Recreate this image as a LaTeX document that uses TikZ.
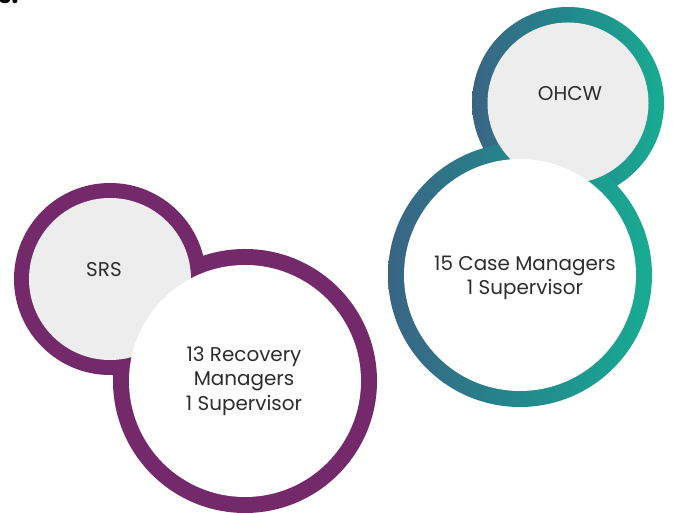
\documentclass[tikz,border=0pt]{standalone}
\usepackage{fontspec}
\setmainfont{Poppins}
\definecolor{plum}{RGB}{116,42,106}
\definecolor{tealL}{RGB}{58,100,132}
\definecolor{tealM}{RGB}{34,136,140}
\definecolor{tealR}{RGB}{24,172,146}
\definecolor{disc}{RGB}{237,237,237}
\definecolor{ink}{RGB}{45,45,45}
\tikzset{
  lbl/.style={text=ink, font=\fontsize{20}{24.5}\selectfont, align=center, inner sep=0pt},
  ringP/.style={circle, fill=plum, inner sep=0pt},
  ringT/.style={circle, left color=tealL, right color=tealR, middle color=tealM, inner sep=0pt},
  grayd/.style={circle, fill=disc, inner sep=0pt},
  whited/.style={circle, fill=white, inner sep=0pt}
}
\begin{document}
\begin{tikzpicture}[x=1bp,y=1bp]
\useasboundingbox (0,0) rectangle (673,513);
% clipped heading fragment
\node[anchor=base west, inner sep=0pt, font=\bfseries\fontsize{24}{28}\selectfont] (head) at (-2,509) {s:};
% purple pair
\node[ringP, minimum size=192bp] (srsR) at (110,234) {};
\node[ringP, minimum size=264bp] (recR) at (245,132) {};
\node[grayd, minimum size=162bp] (srsD) at (110,234) {};
\node[whited, minimum size=232bp] (recD) at (245,132) {};
% teal pair
\node[ringT, minimum size=192bp] (ohR) at (568,410) {};
\node[ringT, minimum size=264bp] (caseR) at (520,238) {};
\node[grayd, minimum size=161bp] (ohD) at (568,410) {};
\node[whited, minimum size=232bp] (caseD) at (520,238) {};
% labels
\node[lbl] (srs) at (104,243) {SRS};
\node[lbl] (rec) at (244,132) {13 Recovery\\Managers\\1 Supervisor};
\node[lbl] (oh) at (570,419) {OHCW};
\node[lbl] (case) at (525,235) {15 Case Managers\\1 Supervisor};
\end{tikzpicture}
\end{document}
